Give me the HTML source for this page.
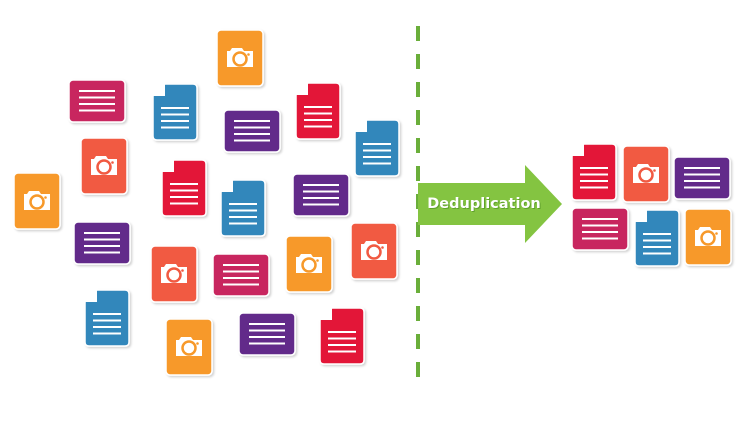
<!DOCTYPE html>
<html><head><meta charset="utf-8"><style>
html,body{margin:0;padding:0;background:#fff;width:750px;height:430px;overflow:hidden}
svg{display:block}
</style></head><body>
<svg width="750" height="430" viewBox="0 0 750 430" xmlns="http://www.w3.org/2000/svg">
<defs>
<filter id="sh" x="-20%" y="-20%" width="150%" height="150%"><feDropShadow dx="1.5" dy="1.5" stdDeviation="1" flood-color="#000" flood-opacity="0.18"/></filter>
<g id="camlens">
 <path d="M10 21 H13 L15 18 H25 L27 21 H36 V37 H10 Z" fill="#fff"/>
 <circle cx="23" cy="29" r="6.5" fill="none" stroke="currentColor" stroke-width="2.5"/>
 <circle cx="31.5" cy="24.5" r="1.3" fill="currentColor"/>
</g>
<g id="doclines" stroke="#fff" stroke-width="2">
 <line x1="8" y1="24" x2="36" y2="24"/><line x1="8" y1="30.5" x2="36" y2="30.5"/><line x1="8" y1="37" x2="36" y2="37"/><line x1="8" y1="43.5" x2="36" y2="43.5"/>
</g>
<g id="fold"><path d="M0 12 L12 0 V12 Z" fill="#fff"/></g>
<g id="txtlines" stroke="#fff" stroke-width="2">
 <line x1="10" y1="11" x2="46" y2="11"/><line x1="10" y1="17.5" x2="46" y2="17.5"/><line x1="10" y1="24" x2="46" y2="24"/><line x1="10" y1="30.5" x2="46" y2="30.5"/>
</g>
</defs>

<g filter="url(#sh)">
<g transform="translate(217,30)" color="#f7992a"><rect width="46" height="56" rx="4" fill="#f7992a" stroke="#fff" stroke-width="1.5"/><use href="#camlens"/></g>
<g transform="translate(81,138)" color="#f15a43"><rect width="46" height="56" rx="4" fill="#f15a43" stroke="#fff" stroke-width="1.5"/><use href="#camlens"/></g>
<g transform="translate(14,173)" color="#f7992a"><rect width="46" height="56" rx="4" fill="#f7992a" stroke="#fff" stroke-width="1.5"/><use href="#camlens"/></g>
<g transform="translate(151,246)" color="#f15a43"><rect width="46" height="56" rx="4" fill="#f15a43" stroke="#fff" stroke-width="1.5"/><use href="#camlens"/></g>
<g transform="translate(286,236)" color="#f7992a"><rect width="46" height="56" rx="4" fill="#f7992a" stroke="#fff" stroke-width="1.5"/><use href="#camlens"/></g>
<g transform="translate(351,223)" color="#f15a43"><rect width="46" height="56" rx="4" fill="#f15a43" stroke="#fff" stroke-width="1.5"/><use href="#camlens"/></g>
<g transform="translate(166,319)" color="#f7992a"><rect width="46" height="56" rx="4" fill="#f7992a" stroke="#fff" stroke-width="1.5"/><use href="#camlens"/></g>
<g transform="translate(623,146)" color="#f15a43"><rect width="46" height="56" rx="4" fill="#f15a43" stroke="#fff" stroke-width="1.5"/><use href="#camlens"/></g>
<g transform="translate(685,209)" color="#f7992a"><rect width="46" height="56" rx="4" fill="#f7992a" stroke="#fff" stroke-width="1.5"/><use href="#camlens"/></g>

<g transform="translate(69,80)"><rect width="56" height="42" rx="4" fill="#c8275f" stroke="#fff" stroke-width="1.5"/><use href="#txtlines"/></g>
<g transform="translate(224,110)"><rect width="56" height="42" rx="4" fill="#622a8a" stroke="#fff" stroke-width="1.5"/><use href="#txtlines"/></g>
<g transform="translate(293,174)"><rect width="56" height="42" rx="4" fill="#622a8a" stroke="#fff" stroke-width="1.5"/><use href="#txtlines"/></g>
<g transform="translate(74,222)"><rect width="56" height="42" rx="4" fill="#622a8a" stroke="#fff" stroke-width="1.5"/><use href="#txtlines"/></g>
<g transform="translate(213,254)"><rect width="56" height="42" rx="4" fill="#c8275f" stroke="#fff" stroke-width="1.5"/><use href="#txtlines"/></g>
<g transform="translate(239,313)"><rect width="56" height="42" rx="4" fill="#622a8a" stroke="#fff" stroke-width="1.5"/><use href="#txtlines"/></g>
<g transform="translate(674,157)"><rect width="56" height="42" rx="4" fill="#622a8a" stroke="#fff" stroke-width="1.5"/><use href="#txtlines"/></g>
<g transform="translate(572,208)"><rect width="56" height="42" rx="4" fill="#c8275f" stroke="#fff" stroke-width="1.5"/><use href="#txtlines"/></g>

<g transform="translate(153,84)"><path d="M12 0 H40 Q44 0 44 4 V52 Q44 56 40 56 H4 Q0 56 0 52 V12 Z" fill="#3187bb" stroke="#fff" stroke-width="1.5"/><use href="#fold"/><use href="#doclines"/></g>
<g transform="translate(296,83)"><path d="M12 0 H40 Q44 0 44 4 V52 Q44 56 40 56 H4 Q0 56 0 52 V12 Z" fill="#e31937" stroke="#fff" stroke-width="1.5"/><use href="#fold"/><use href="#doclines"/></g>
<g transform="translate(355,120)"><path d="M12 0 H40 Q44 0 44 4 V52 Q44 56 40 56 H4 Q0 56 0 52 V12 Z" fill="#3187bb" stroke="#fff" stroke-width="1.5"/><use href="#fold"/><use href="#doclines"/></g>
<g transform="translate(162,160)"><path d="M12 0 H40 Q44 0 44 4 V52 Q44 56 40 56 H4 Q0 56 0 52 V12 Z" fill="#e31937" stroke="#fff" stroke-width="1.5"/><use href="#fold"/><use href="#doclines"/></g>
<g transform="translate(221,180)"><path d="M12 0 H40 Q44 0 44 4 V52 Q44 56 40 56 H4 Q0 56 0 52 V12 Z" fill="#3187bb" stroke="#fff" stroke-width="1.5"/><use href="#fold"/><use href="#doclines"/></g>
<g transform="translate(85,290)"><path d="M12 0 H40 Q44 0 44 4 V52 Q44 56 40 56 H4 Q0 56 0 52 V12 Z" fill="#3187bb" stroke="#fff" stroke-width="1.5"/><use href="#fold"/><use href="#doclines"/></g>
<g transform="translate(320,308)"><path d="M12 0 H40 Q44 0 44 4 V52 Q44 56 40 56 H4 Q0 56 0 52 V12 Z" fill="#e31937" stroke="#fff" stroke-width="1.5"/><use href="#fold"/><use href="#doclines"/></g>
<g transform="translate(572,144)"><path d="M12 0 H40 Q44 0 44 4 V52 Q44 56 40 56 H4 Q0 56 0 52 V12 Z" fill="#e31937" stroke="#fff" stroke-width="1.5"/><use href="#fold"/><use href="#doclines"/></g>
<g transform="translate(635,210)"><path d="M12 0 H40 Q44 0 44 4 V52 Q44 56 40 56 H4 Q0 56 0 52 V12 Z" fill="#3187bb" stroke="#fff" stroke-width="1.5"/><use href="#fold"/><use href="#doclines"/></g>
</g>

<line x1="418" y1="26" x2="418" y2="382" stroke="#6aae3a" stroke-width="4" stroke-dasharray="15 13"/>

<path d="M418 183 H525 V165 L562 204 L525 243 V225 H418 Z" fill="#84c441"/>
<text x="485" y="209" text-anchor="middle" font-family="'DejaVu Sans', sans-serif" font-size="14.5" font-weight="bold" fill="#4a8a20" opacity="0.6">Deduplication</text>
<text x="484" y="208" text-anchor="middle" font-family="'DejaVu Sans', sans-serif" font-size="14.5" font-weight="bold" fill="#fff">Deduplication</text>
</svg>
</body></html>
